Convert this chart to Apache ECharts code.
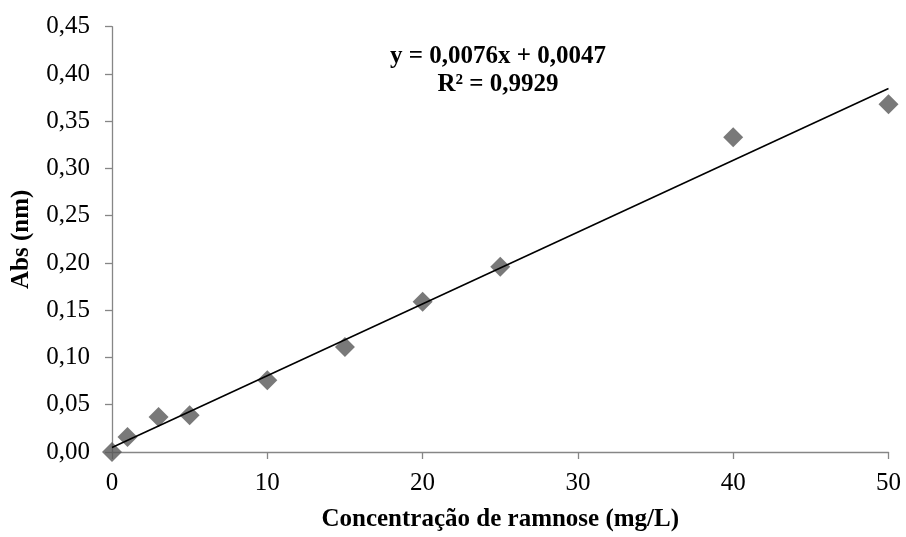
<!DOCTYPE html>
<html>
<head>
<meta charset="utf-8">
<script src="https://cdn.jsdelivr.net/npm/echarts@6/dist/echarts.min.js"></script>
<style>html,body{margin:0;padding:0;background:#fff}#c{width:906px;height:537px}</style>
</head>
<body>
<div id="c"></div>
<script>
const concentrations = [0, 1, 3, 5, 10, 15, 20, 25, 40, 50];
const absorbances = [0, 0.016, 0.037, 0.039, 0.076, 0.111, 0.159, 0.196, 0.333, 0.368];
const trendX = [0, 50];
const trendY = [0.0047, 0.3847];
const equationLines = ['y = 0,0076x + 0,0047', 'R² = 0,9929'];
const xTitle = 'Concentração de ramnose (mg/L)';
const yTitle = 'Abs (nm)';

const FONT = '"Liberation Serif", "Times New Roman", serif';
const chart = echarts.init(document.getElementById('c'), null, {renderer: 'canvas'});
const axisGray = '#868686';
chart.setOption({
  animation: false,
  backgroundColor: '#ffffff',
  title: {
    text: equationLines.join('\n'),
    left: 493, top: 38, textAlign: 'center',
    textStyle: {fontFamily: FONT, fontWeight: 'bold', fontSize: 25, lineHeight: 28, color: '#000'}
  },
  grid: {left: 112, right: 17.5, top: 26.7, bottom: 81, containLabel: false},
  xAxis: {
    type: 'value', min: 0, max: 50, interval: 10,
    name: xTitle, nameLocation: 'middle', nameGap: 55,
    nameTextStyle: {fontFamily: FONT, fontWeight: 'bold', fontSize: 25, color: '#000'},
    axisLine: {show: true, lineStyle: {color: axisGray, width: 1.3}},
    axisTick: {show: true, length: 7, inside: false, lineStyle: {color: axisGray, width: 1.3}},
    axisLabel: {fontFamily: FONT, fontSize: 25, color: '#000', margin: 19},
    splitLine: {show: false}
  },
  yAxis: {
    type: 'value', min: 0, max: 0.45, interval: 0.05,
    name: yTitle, nameLocation: 'middle', nameGap: 78, nameRotate: 90,
    nameTextStyle: {fontFamily: FONT, fontWeight: 'bold', fontSize: 25, color: '#000'},
    axisLine: {show: true, lineStyle: {color: axisGray, width: 1.3}},
    axisTick: {show: true, length: 7, inside: false, lineStyle: {color: axisGray, width: 1.3}},
    axisLabel: {fontFamily: FONT, fontSize: 25, color: '#000', margin: 22,
      formatter: v => v.toFixed(2).replace('.', ',')},
    splitLine: {show: false}
  },
  series: [
    {
      type: 'scatter', symbol: 'diamond', symbolSize: 20,
      itemStyle: {color: '#585858'},
      data: concentrations.map((x, i) => [x, absorbances[i]]),
      z: 2
    },
    {
      type: 'line', showSymbol: false, symbol: 'none',
      lineStyle: {color: '#000', width: 1.6},
      data: trendX.map((x, i) => [x, trendY[i]]),
      z: 3
    }
  ]
});
</script>
</body>
</html>
